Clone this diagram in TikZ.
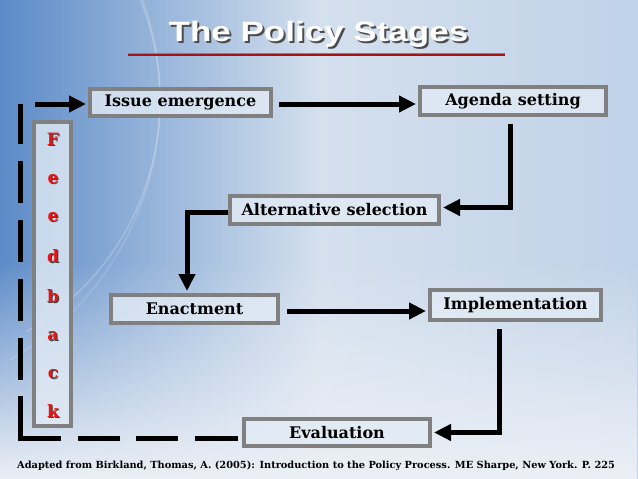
\documentclass[tikz,border=0pt]{standalone}
\usepackage{fontspec}
\setmainfont{DejaVu Serif}
\newfontfamily\titlefont{Liberation Sans}
\usetikzlibrary{arrows.meta,fadings}
\definecolor{bgL}{RGB}{92,139,200}
\definecolor{bgM}{RGB}{212,224,238}
\definecolor{bgR}{RGB}{192,210,232}
\definecolor{bgLow}{RGB}{236,240,246}
\definecolor{boxgray}{RGB}{128,128,128}
\definecolor{boxfill}{RGB}{226,235,245}
\definecolor{fbred}{RGB}{228,22,22}
\definecolor{ulred}{RGB}{165,20,20}
\definecolor{ulhi}{RGB}{240,90,60}
\newcommand{\shadowtext}[4]{\makebox[0pt][l]{\hspace*{#3}\raisebox{-#3}{\color{#2}#1}}{\color{#4}#1}}
\begin{document}
\begin{tikzpicture}[x=1pt,y=-1pt,
  stage/.style={draw=boxgray, line width=4pt, fill=boxfill, fill opacity=0.8, text opacity=1,
    inner sep=0pt, font=\bfseries\fontsize{16}{19}\selectfont},
  arr/.style={line width=5pt, -{Triangle[length=17pt,width=16pt]}},
  fbdash/.style={line width=5pt, dash pattern=on 43pt off 17pt on 42pt off 16pt on 42pt off 17pt on 83pt off 16pt on 42pt off 17pt on 42pt off 17pt on 42pt off 17pt on 42pt off 17pt on 42pt off 40pt},
  fbletter/.style={font=\bfseries\fontsize{17}{19}\selectfont, inner sep=0pt},
  swoosh/.style={white, opacity=0.22, line width=1.5pt}
]
\useasboundingbox (0,0) rectangle (638,479);
% background
\fill[left color=bgL, right color=bgR, middle color=bgM] (0,0) rectangle (638,479);
\fill[bgLow, path fading=north] (0,260) rectangle (638,479);
\draw[swoosh] (-107,100) ++(0:267) arc[start angle=0, end angle=60, radius=267];
\draw[swoosh] (-107,100) ++(0:267) arc[start angle=0, end angle=-25, radius=267];
\draw[swoosh, opacity=0.15] (-140,100) ++(0:300) arc[start angle=0, end angle=60, radius=300];
\draw[swoosh, opacity=0.15] (-140,100) ++(0:300) arc[start angle=0, end angle=-25, radius=300];

% title
\node (title) at (318.5,35.5) {\titlefont\bfseries\fontsize{28}{30}\selectfont\scalebox{1.25}[1]{\shadowtext{The Policy Stages}{black!70}{1.6pt}{white}}};
\draw[ulred, line width=3pt] (128,54) -- (505,54);
\draw[ulhi, line width=1pt] (128,53.5) -- (505,53.5);

% stages
\node[stage, minimum width=181pt, minimum height=27pt] (issue) at (180.5,102.5) {Issue emergence};
\node[stage, minimum width=186pt, minimum height=28pt] (agenda) at (513,101) {Agenda setting};
\node[stage, minimum width=209pt, minimum height=28pt] (alt) at (334.5,209.5) {Alternative selection};
\node[stage, minimum width=167pt, minimum height=28pt] (enact) at (194.5,309) {Enactment};
\node[stage, minimum width=171pt, minimum height=30pt] (impl) at (515.5,305) {Implementation};
\node[stage, minimum width=186pt, minimum height=27pt] (eval) at (337,432.5) {Evaluation};
\node[stage, minimum width=37pt, minimum height=304pt] (fbbox) at (52.5,274) {};

% feedback letters
\foreach \l/\yy [count=\i] in {F/140,e/180,e/218,d/257,b/297,a/337,c/375,k/412}{
  \node[fbletter] (fbl\i) at (53,\yy) {\shadowtext{\l}{black!75}{1pt}{fbred}};
}

% connectors
\draw[arr, shorten >=2pt] ([xshift=6pt,yshift=-1.5pt]issue.east) -- ([yshift=-1.5pt]issue.east -| agenda.west);
\draw[arr] ([xshift=-3pt,yshift=-7pt]agenda.south) |- ([xshift=2pt,yshift=2pt]alt.east);
\draw[arr] ([yshift=-2.5pt]alt.west) -| ([xshift=-7.5pt,yshift=2pt]enact.north);
\draw[arr, shorten >=2pt] ([xshift=7pt,yshift=-2pt]enact.east) -- ([yshift=-2pt]enact.east -| impl.west);
\draw[arr] ([xshift=-16.5pt,yshift=-7pt]impl.south) |- ([xshift=2pt]eval.east);

% feedback loop
\coordinate (fbA) at (20,438);
\coordinate (fbB) at (20,104);
\coordinate (fbC) at (35,104);
\draw[fbdash] ([xshift=-4pt,yshift=-5.5pt]eval.west) -- (fbA) -- (fbB);
\draw[arr, shorten >=2pt] (fbC) -- (fbC -| issue.west);

% footer
\node[anchor=west, inner sep=0pt, font=\bfseries\fontsize{9.8}{11}\selectfont] (footer) at (17,466) {Adapted from Birkland, Thomas, A. (2005): Introduction to the Policy Process. ME Sharpe, New York. P. 225};
\end{tikzpicture}
\end{document}
